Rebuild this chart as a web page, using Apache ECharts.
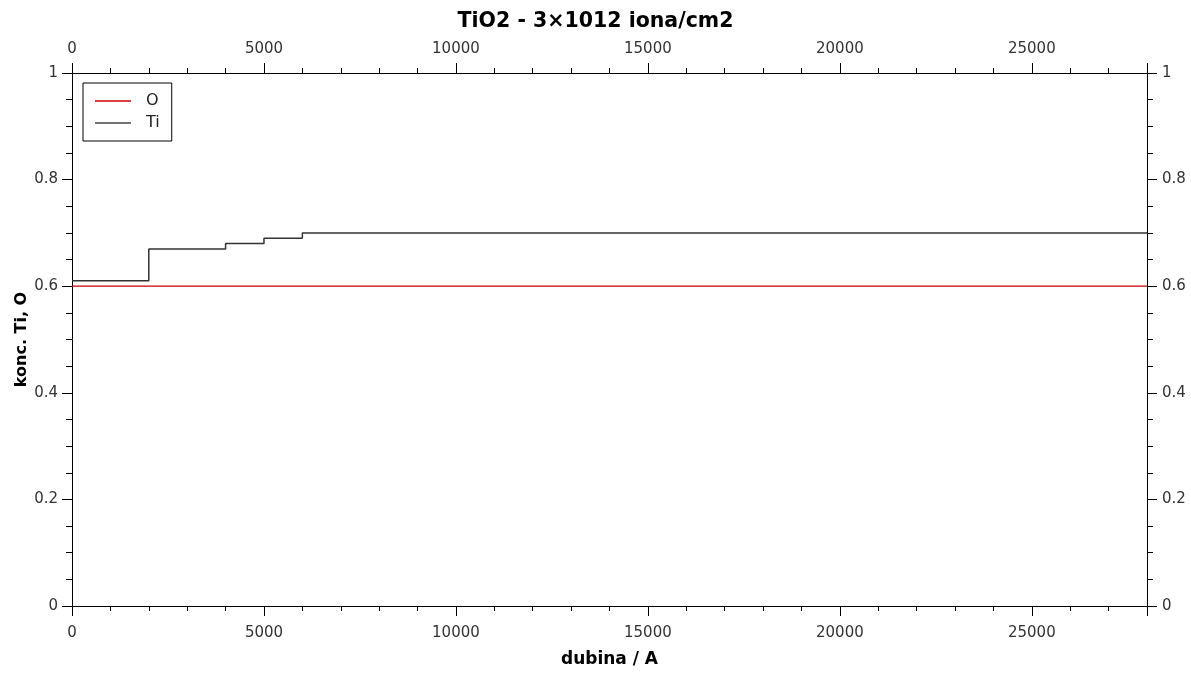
<!DOCTYPE html>
<html>
<head>
<meta charset="utf-8">
<script src="https://cdn.jsdelivr.net/npm/echarts@6/dist/echarts.min.js"></script>
<style>
  html, body { margin: 0; padding: 0; background: #fff; }
  #chart { width: 1191px; height: 673px; }
</style>
</head>
<body>
<div id="chart"></div>
<script>
// Depth profile: concentration of Ti and O vs. depth
const depth = [0, 2000, 4000, 5000, 6000, 28000];
const tiConc = [0.61, 0.67, 0.68, 0.69, 0.70, 0.70];
const oConc = [0.6, 0.6, 0.6, 0.6, 0.6, 0.6];
const seriesNames = ['O', 'Ti'];

const FONT = 'DejaVu Sans';
const AXIS_COLOR = '#000';
const LABEL_COLOR = '#333';
const LINE_ICON = 'path://M0,0H36V1.3H0Z';

function pairs(xs, ys) { return xs.map((x, i) => [x, ys[i]]); }

function xAxisDef(position, showName) {
  return {
    type: 'value', position: position, min: 0, max: 28000, interval: 5000,
    name: showName ? 'dubina / A' : '', nameLocation: 'middle', nameGap: 45,
    nameMoveOverlap: false,
    nameTextStyle: { fontFamily: FONT, fontWeight: 'bold', fontSize: 17, color: '#000' },
    axisLine: { show: true, onZero: false, lineStyle: { color: AXIS_COLOR, width: 1 } },
    axisTick: { show: true, inside: false, length: 10, lineStyle: { color: AXIS_COLOR } },
    minorTick: { show: true, splitNumber: 5, length: 5, lineStyle: { color: AXIS_COLOR } },
    axisLabel: { fontFamily: FONT, fontSize: 15, color: LABEL_COLOR,
      margin: position === 'bottom' ? 20 : 16,
      showMaxLabel: false, formatter: v => String(v) },
    splitLine: { show: false }
  };
}

function yAxisDef(position, showName) {
  return {
    type: 'value', position: position, min: 0, max: 1, interval: 0.2,
    name: showName ? 'konc. Ti, O' : '', nameLocation: 'middle', nameGap: 42,
    nameMoveOverlap: false,
    nameTextStyle: { fontFamily: FONT, fontWeight: 'bold', fontSize: 16, color: '#000' },
    axisLine: { show: true, onZero: false, lineStyle: { color: AXIS_COLOR, width: 1 } },
    axisTick: { show: true, inside: false, length: 10, lineStyle: { color: AXIS_COLOR } },
    minorTick: { show: true, splitNumber: 4, length: 6, lineStyle: { color: AXIS_COLOR } },
    axisLabel: { fontFamily: FONT, fontSize: 15, color: LABEL_COLOR,
      margin: position === 'left' ? 14 : 15,
      formatter: v => String(Math.round(v * 10) / 10) },
    splitLine: { show: false }
  };
}

const chart = echarts.init(document.getElementById('chart'), null, { renderer: 'canvas' });
chart.setOption({
  animation: false,
  backgroundColor: '#fff',
  title: {
    text: 'TiO2 - 3×1012 iona/cm2', left: 'center', top: 6,
    textStyle: { fontFamily: FONT, fontWeight: 'bold', fontSize: 20.5, color: '#000' }
  },
  grid: { left: 72, right: 44, top: 73, bottom: 67, containLabel: false, outerBoundsMode: 'none' },
  legend: {
    data: seriesNames.map(n => ({ name: n, icon: LINE_ICON })),
    orient: 'vertical', left: 83, top: 83,
    borderColor: '#000', borderWidth: 1, padding: [10, 12, 10, 12],
    itemWidth: 36, itemHeight: 14, itemGap: 6,
    textStyle: { fontFamily: FONT, fontSize: 16, color: '#222', lineHeight: 14, padding: [0, 0, 0, 10] }
  },
  xAxis: [xAxisDef('bottom', true), xAxisDef('top', false)],
  yAxis: [yAxisDef('left', true), yAxisDef('right', false)],
  series: [
    {
      name: 'O', type: 'line', data: pairs(depth, oConc), showSymbol: false, symbol: 'none',
      lineStyle: { color: '#cc0000', width: 1.2 }, itemStyle: { color: '#cc0000' }
    },
    {
      name: 'Ti', type: 'line', step: 'end', data: pairs(depth, tiConc), showSymbol: false, symbol: 'none',
      lineStyle: { color: '#333', width: 1.5 }, itemStyle: { color: '#444' }
    }
  ]
});
</script>
</body>
</html>
